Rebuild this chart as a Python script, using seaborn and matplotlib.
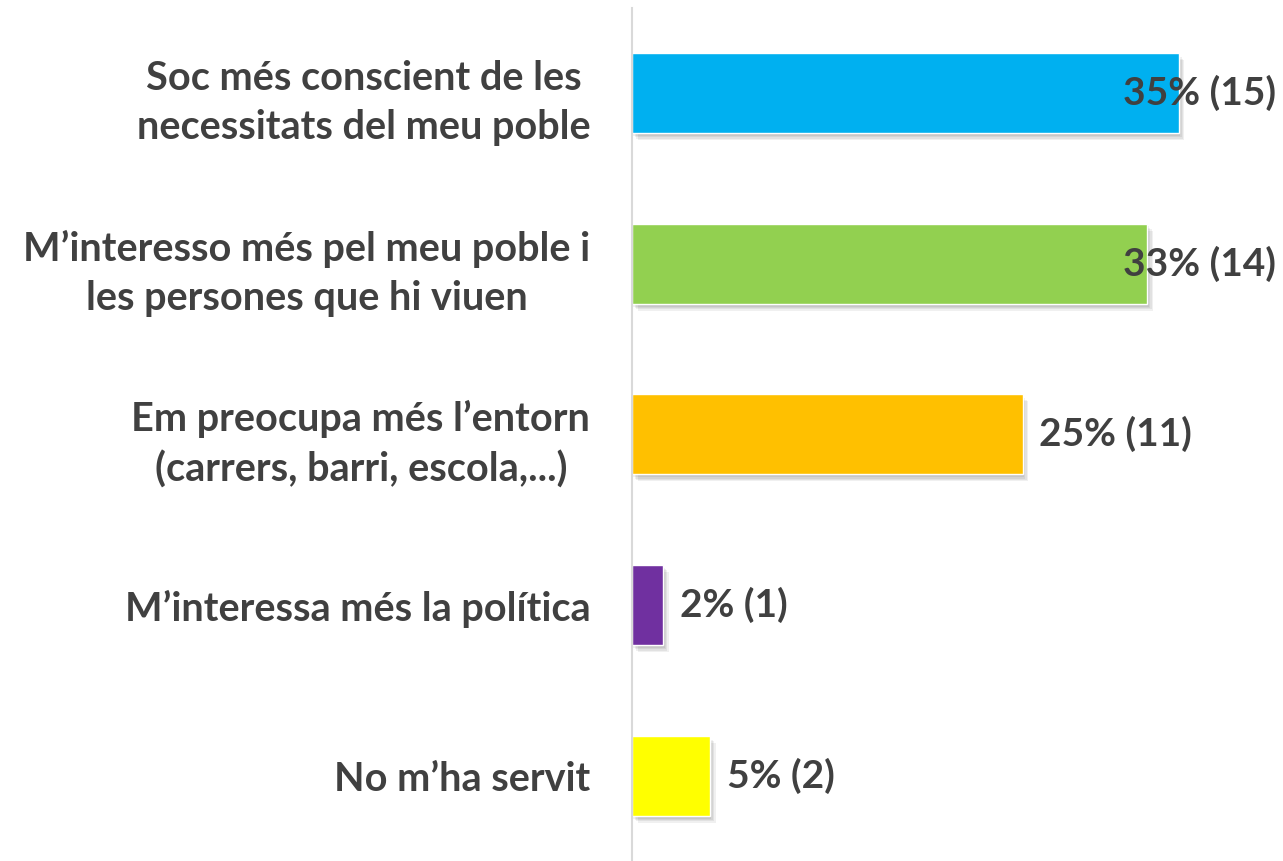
import matplotlib
matplotlib.use("Agg")
import matplotlib.pyplot as plt
import matplotlib.patheffects as pe
import seaborn as sns
import pandas as pd

# data
categories = [
    "Soc més conscient de les\nnecessitats del meu poble",
    "M’interesso més pel meu poble i\nles persones que hi viuen",
    "Em preocupa més l’entorn\n(carrers, barri, escola,...)",
    "M’interessa més la política",
    "No m’ha servit",
]
percents = [35, 33, 25, 2, 5]
counts = [15, 14, 11, 1, 2]
colors = ["#00B0F0", "#92D050", "#FFC000", "#7030A0", "#FFFF00"]

df = pd.DataFrame({"cat": categories, "pct": percents})

sns.set_style("white")
plt.rcParams["font.family"] = ["Lato", "DejaVu Sans"]
txt_color = "#404040"

fig = plt.figure(figsize=(12.83, 8.61), dpi=100)
ax = fig.add_axes([0.4926, 0.0, 0.487, 0.991])

sns.barplot(data=df, x="pct", y="cat", hue="cat", palette=colors,
            orient="h", width=0.47, legend=False, ax=ax, saturation=1)

# soft drop shadow
shadow = [pe.SimplePatchShadow(offset=(k, -k - 1), alpha=0.06, shadow_rgbFace="black") for k in (1, 2, 3, 4)]
for p in ax.patches:
    p.set_path_effects(shadow + [pe.Normal()])

ax.set_xlim(0, 40)
ax.set_ylim(4.5, -0.5)
ax.set_xlabel("")
ax.set_ylabel("")
ax.set_xticks([])
for s in ["top", "right", "bottom"]:
    ax.spines[s].set_visible(False)
ax.spines["left"].set_color("#D9D9D9")
ax.spines["left"].set_linewidth(1.5)

ax.tick_params(axis="y", length=0, pad=30)
for lab in ax.get_yticklabels():
    lab.set_fontsize(28.5)
    lab.set_fontweight("bold")
    lab.set_color(txt_color)
    lab.set_multialignment("center")
    lab.set_linespacing(1.4)

# value labels
fig.canvas.draw()
right_edge = 1276 / 1283
for i, (pc, n) in enumerate(zip(percents, counts)):
    label = f"{pc}% ({n})"
    t = ax.annotate(label, xy=(pc, i), xytext=(12, 0), textcoords="offset points",
                    ha="left", va="center", fontsize=28, fontweight="bold", color=txt_color,
                    annotation_clip=False)
    bb = t.get_window_extent(fig.canvas.get_renderer())
    if bb.x1 > right_edge * fig.bbox.width:
        t.remove()
        ax.annotate(label, xy=(right_edge, i), xycoords=("figure fraction", "data"),
                    ha="right", va="center", fontsize=28, fontweight="bold", color=txt_color,
                    annotation_clip=False)

fig.savefig("out.png", dpi=100)
